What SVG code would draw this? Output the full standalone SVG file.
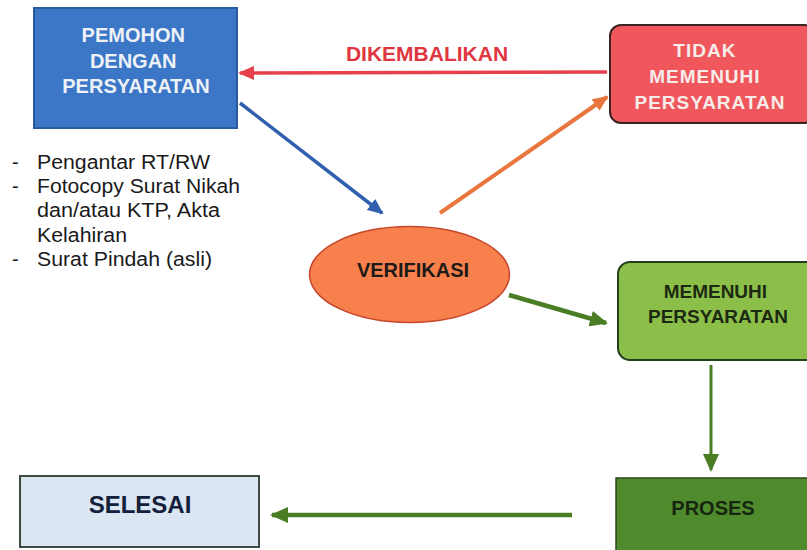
<svg xmlns="http://www.w3.org/2000/svg" width="807" height="550" viewBox="0 0 807 550">
  <defs>
    <style>
      .t { font-family: "Liberation Sans", Arial, sans-serif; font-weight: bold; text-anchor: middle; }
      .lst { font-family: "Liberation Sans", Arial, sans-serif; font-size: 20px; fill: #1a1a1a; }
      .conn { fill: none; }
    </style>
    <marker id="ahBlue" markerUnits="userSpaceOnUse" markerWidth="16" markerHeight="14" refX="14" refY="7" orient="auto">
      <path d="M0,0 L16,7 L0,14 Z" fill="#2f5fae"/>
    </marker>
    <marker id="ahRed" markerUnits="userSpaceOnUse" markerWidth="16" markerHeight="14" refX="14" refY="7" orient="auto">
      <path d="M0,0 L16,7 L0,14 Z" fill="#e6404a"/>
    </marker>
    <marker id="ahOrange" markerUnits="userSpaceOnUse" markerWidth="16" markerHeight="14" refX="14" refY="7" orient="auto">
      <path d="M0,0 L16,7 L0,14 Z" fill="#e8763e"/>
    </marker>
    <marker id="ahGreen" markerUnits="userSpaceOnUse" markerWidth="18" markerHeight="16" refX="16" refY="8" orient="auto">
      <path d="M0,0 L18,8 L0,16 Z" fill="#4a7d24"/>
    </marker>
  </defs>
  <rect width="807" height="550" fill="#ffffff"/>

  <g id="connectors">
    <line class="conn" x1="607" y1="72" x2="240" y2="73" stroke="#e6404a" stroke-width="3.5" marker-end="url(#ahRed)"/>
    <line class="conn" x1="240" y1="103" x2="382" y2="213" stroke="#2f5fae" stroke-width="3.5" marker-end="url(#ahBlue)"/>
    <line class="conn" x1="440" y1="213" x2="607" y2="97" stroke="#e8763e" stroke-width="4" marker-end="url(#ahOrange)"/>
    <line class="conn" x1="509" y1="295" x2="606" y2="323" stroke="#4a7d24" stroke-width="4.5" marker-end="url(#ahGreen)"/>
    <line class="conn" x1="711" y1="365" x2="711" y2="470" stroke="#4a7d24" stroke-width="3" marker-end="url(#ahGreen)"/>
    <line class="conn" x1="572" y1="515" x2="272" y2="515" stroke="#4a7d24" stroke-width="4.5" marker-end="url(#ahGreen)"/>
    <text class="t" x="427" y="61" font-size="21" fill="#e0363f">DIKEMBALIKAN</text>
  </g>

  <g id="pemohon">
    <rect x="34" y="8" width="203" height="120" fill="#3b77c6" stroke="#2a5a9e" stroke-width="2"/>
    <text class="t" font-size="20" fill="#eef1f6">
      <tspan x="136" y="42">PEMOHON</tspan>
      <tspan x="136" y="68">DENGAN</tspan>
      <tspan x="136" y="93">PERSYARATAN</tspan>
    </text>
  </g>

  <g id="syarat">
    <text class="lst" x="12" y="169">-</text>
    <text class="lst" x="37" y="169" textLength="173" lengthAdjust="spacingAndGlyphs">Pengantar RT/RW</text>
    <text class="lst" x="12" y="193">-</text>
    <text class="lst" x="37" y="193" textLength="203" lengthAdjust="spacingAndGlyphs">Fotocopy Surat Nikah</text>
    <text class="lst" x="37" y="217" textLength="183" lengthAdjust="spacingAndGlyphs">dan/atau KTP, Akta</text>
    <text class="lst" x="37" y="242" textLength="90" lengthAdjust="spacingAndGlyphs">Kelahiran</text>
    <text class="lst" x="12" y="266">-</text>
    <text class="lst" x="37" y="266" textLength="175" lengthAdjust="spacingAndGlyphs">Surat Pindah (asli)</text>
  </g>

  <g id="tidak">
    <rect x="610" y="25" width="205" height="98" rx="11" fill="#f0575c" stroke="#3a2222" stroke-width="2"/>
    <text class="t" font-size="19" letter-spacing="1" fill="#f6ecea">
      <tspan x="708" y="57">TIDAK</tspan>
      <tspan x="708" y="83">MEMENUHI</tspan>
      <tspan x="710" y="109">PERSYARATAN</tspan>
    </text>
  </g>

  <g id="verifikasi">
    <ellipse cx="409.5" cy="274.5" rx="100" ry="48" fill="#f7804c" stroke="#c8452c" stroke-width="1.5"/>
    <text class="t" x="413" y="277" font-size="20" fill="#1e1a18">VERIFIKASI</text>
  </g>

  <g id="memenuhi">
    <rect x="618" y="262" width="200" height="98" rx="12" fill="#8cbe4a" stroke="#24401a" stroke-width="2"/>
    <text class="t" font-size="19" fill="#1c2a12">
      <tspan x="718" y="298">MEMENUHI</tspan>
      <tspan x="718" y="323">PERSYARATAN</tspan>
    </text>
  </g>

  <g id="proses">
    <rect x="616" y="478" width="200" height="80" fill="#4f8a2c" stroke="#2d4a1c" stroke-width="1.5"/>
    <text class="t" x="713" y="515" font-size="20" fill="#172610">PROSES</text>
  </g>

  <g id="selesai">
    <rect x="20" y="476" width="239" height="71" fill="#dae7f3" stroke="#3f4a45" stroke-width="2"/>
    <text class="t" x="140" y="513" font-size="24" fill="#14203a">SELESAI</text>
  </g>
</svg>
